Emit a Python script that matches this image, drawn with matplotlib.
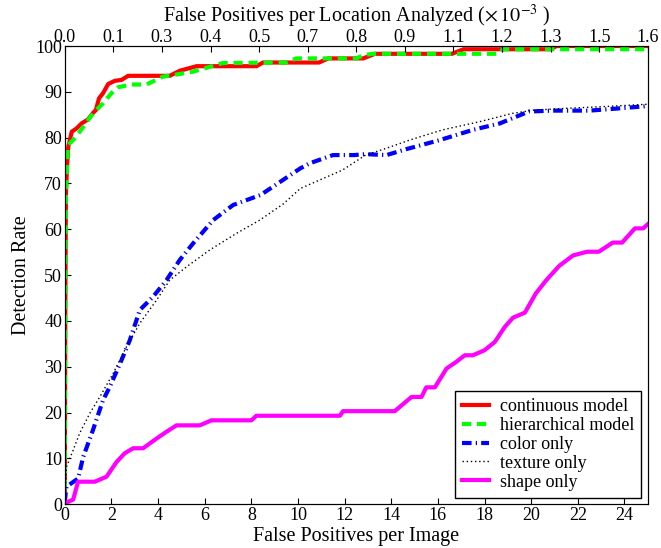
import numpy as np
import matplotlib
matplotlib.use("Agg")
from matplotlib import pyplot as plt

plt.rcParams['font.family'] = ['Liberation Serif', 'DejaVu Serif']
plt.rcParams['mathtext.fontset'] = 'stix'
FS = 13
LFS = 14.5

# continuous model (red)
cont_x = [0, 0.02, 0.05, 0.1, 0.15, 0.3, 0.5, 0.72, 1.0, 1.21, 1.33, 1.47, 1.64, 1.86, 2.14, 2.43, 2.72,
          4.5, 4.93, 5.65, 8.22, 8.5, 10.9, 11.3, 12.8, 13.3, 16.6, 17.1, 20.8, 21.1, 25]
cont_y = [0, 40, 68, 74, 78, 81.3, 82, 83.1, 84, 85.4, 86, 88.6, 89.7, 91.7, 92.4, 92.6, 93.5,
          93.5, 94.6, 95.6, 95.6, 96.4, 96.4, 97.3, 97.3, 98.3, 98.3, 99.3, 99.3, 100, 100]

# hierarchical model (green)
hier_x = [0, 0.02, 0.05, 0.14, 0.36, 0.64, 1.21, 1.64, 2.0, 2.29, 2.86, 3.5, 4.2, 4.7, 5.5, 6.79,
          9.5, 9.93, 12.5, 12.8, 13.2, 18.6, 18.8, 25]
hier_y = [0, 40, 68, 78.4, 79.5, 81.3, 85.3, 87.5, 89.7, 91.0, 91.6, 91.6, 93.3, 93.7, 94.4, 96.3,
          96.4, 97.3, 97.3, 98.0, 98.3, 98.3, 99.3, 99.3]

# color only (blue)
color_x = [0, 0.07, 0.57, 0.79, 1.21, 1.64, 1.93, 2.43, 2.79, 3.22, 3.79, 4.36, 4.93, 5.5, 6.36, 7.22,
           8.4, 10.1, 10.5, 11.5, 12.4, 12.9, 13.8, 14.65, 16.1, 17.5, 18.65, 19.9, 20.9, 22.5, 23.8, 25]
color_y = [0.5, 3.8, 5.6, 10.3, 16.2, 22.7, 25.6, 31.4, 35.8, 42.4, 45.3, 48.9, 53.3, 56.9, 62.0, 65.3,
           67.5, 73.3, 74.4, 76.2, 76.2, 76.4, 76.2, 77.5, 79.5, 81.7, 83.1, 85.7, 85.9, 85.9, 86.4, 86.9]

# texture only (black dotted)
tex_x = [0, 0.07, 0.36, 0.64, 1.07, 1.5, 2.07, 2.64, 3.22, 3.93, 4.5, 5.22, 6.22, 7.36, 8.36, 9.36,
         10.1, 10.9, 11.9, 12.9, 13.8, 14.8, 16.2, 17.8, 19.2, 20.1, 21.5, 23.2, 25]
tex_y = [0.9, 8.1, 11.8, 15.5, 19.8, 23.4, 28.5, 34.3, 39.5, 44.5, 48.9, 51.8, 55.5, 59.1, 62.0, 65.5,
         68.9, 70.7, 72.9, 76.2, 77.7, 79.5, 81.7, 83.5, 85.3, 86.0, 86.4, 86.8, 87.3]

# shape only (magenta)
shape_x = [0, 0.14, 0.36, 0.57, 1.29, 1.79, 2.22, 2.57, 2.93, 3.36, 3.93, 4.36, 4.79, 5.79, 6.29, 8.0,
           8.22, 11.8, 11.93, 14.15, 14.87, 15.3, 15.5, 15.87, 16.37, 16.8, 17.15, 17.5, 18.0, 18.44,
           18.87, 19.22, 19.73, 20.2, 20.65, 21.2, 21.8, 22.4, 22.9, 23.5, 23.9, 24.45, 24.8, 25]
shape_y = [0, 0.5, 1.0, 4.9, 4.9, 6.0, 9.2, 11.1, 12.2, 12.2, 14.3, 15.8, 17.2, 17.2, 18.3, 18.3,
           19.3, 19.3, 20.3, 20.3, 23.4, 23.4, 25.5, 25.5, 29.6, 31.1, 32.5, 32.5, 33.6, 35.4,
           38.7, 40.7, 41.8, 46.0, 48.9, 52.0, 54.3, 55.1, 55.1, 57.1, 57.1, 60.2, 60.2, 61.1]

labels = ["continuous model", "hierarchical model", "color only", "texture only", "shape only"]
xticks = list(range(0, 25, 2))
yticks = list(range(0, 101, 10))
top_max = 1.6

fig = plt.figure(figsize=(6.61, 5.48), dpi=100)
ax = fig.add_axes([0.098, 0.080, 0.882, 0.836])

LW = 3
ax.plot(cont_x, cont_y, color=(1, 0, 0), lw=LW, label=labels[0], solid_joinstyle='miter')
ax.plot(hier_x, hier_y, color=(0, 1, 0), lw=LW, dashes=(2.2, 1.4), label=labels[1])
ax.plot(color_x, color_y, color=(0, 0, 1), lw=LW, dashes=(2.3, 1.0, 0.3, 1.0), label=labels[2])
ax.plot(tex_x, tex_y, color='k', lw=1.0, dashes=(1, 2.0), label=labels[3])
ax.plot(shape_x, shape_y, color=(1, 0, 1), lw=LW, label=labels[4])

ax.set_xlim(0, 25)
ax.set_ylim(0, 100)
ax.set_xticks(xticks)
ax.set_yticks(yticks)
ax.tick_params(direction='in', length=4, labelsize=FS, top=False, right=False, pad=2)
ax.set_xlabel("False Positives per Image", fontsize=LFS, labelpad=2)
ax.set_ylabel("Detection Rate", fontsize=LFS, labelpad=3)
for s in ax.spines.values():
    s.set_color('0.2')

top = ax.twiny()
top.set_xlim(0, top_max)
top.set_xticks(np.linspace(0, top_max, 13))
top.set_xticklabels(["%.1f" % v for v in np.linspace(0, top_max, 13)])
top.tick_params(direction='in', length=4, labelsize=FS, pad=0)
top.set_xlabel(r"False Positives per Location Analyzed ($\times\,10^{-3}$ )", fontsize=LFS, labelpad=5)

leg = ax.legend(loc='lower right', fontsize=FS, fancybox=False, framealpha=1, edgecolor='k',
                borderaxespad=0.35, handlelength=1.5, handletextpad=0.6, labelspacing=0.1,
                borderpad=0.4)
leg.get_frame().set_linewidth(1.0)

fig.savefig("out.png", dpi=100)
